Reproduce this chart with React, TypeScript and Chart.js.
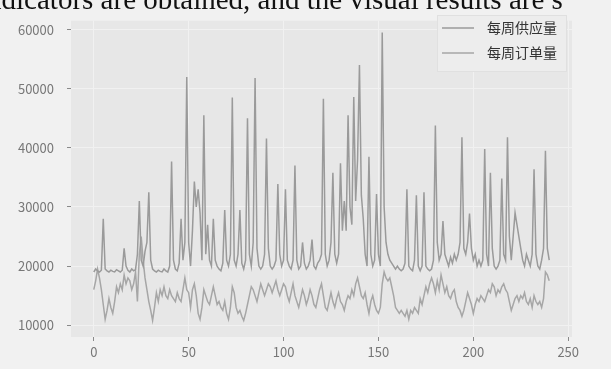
import React, { useEffect, useRef } from 'react';
import { Chart, registerables } from 'chart.js';

Chart.register(...registerables);

const seriesNames = ['每周供应量', '每周订单量'];

const supply = [
  19000, 19500, 19200, 19000, 19300, 28000, 19500, 19200, 19000, 19300,
  19100, 19000, 19400, 19200, 19000, 19300, 23000, 20000, 19300, 19000,
  19500, 19200, 19400, 22000, 31000, 21000, 20000, 22500, 24000, 32500,
  21000, 19500, 19200, 19000, 19300, 19100, 19000, 19500, 19200, 19000,
  20000, 37700, 21000, 19500, 19200, 20500, 28000, 21000, 24000, 52000,
  24000, 20000, 26000, 34300, 30000, 33000, 29000, 21000, 45500, 22000,
  27000, 21000, 20000, 28000, 21000, 20000, 19500, 19200, 20500, 29500,
  21000, 20000, 22000, 48500, 21000, 20000, 22000, 29500, 20500, 19500,
  21000, 45000, 22000, 20000, 24000, 51800, 23000, 20000, 19500, 20000,
  22000, 41600, 23000, 20000, 19500, 20000, 21000, 33900, 22000, 20000,
  21000, 33000, 21000, 20000, 19500, 21000, 37000, 21000, 19500, 20000,
  24000, 20500, 19500, 20000, 21000, 24500, 20000, 19500, 20500, 21000,
  22000, 48300, 22000, 20000, 21000, 24000, 35800, 22000, 20500, 22000,
  37400, 26000, 31000, 26000, 45500, 30000, 27000, 48600, 31000, 38000,
  54000, 32000, 28000, 22000, 20000, 38500, 22000, 20000, 21000, 32200,
  22000, 20000, 59500, 30000, 24000, 22000, 21000, 20500, 20000, 19500,
  20000, 19500, 19200, 19500, 20500, 33000, 20000, 19500, 19200, 21000,
  32000, 20000, 19200, 20000, 32500, 20000, 19500, 19200, 19500, 21000,
  43800, 24000, 21000, 22000, 27600, 22000, 21000, 20000, 21500, 20500,
  22000, 21000, 22000, 24000, 41800, 23000, 22000, 24000, 28900, 23000,
  21000, 22000, 20000, 21000, 20000, 21000, 39800, 22000, 20000, 35800,
  23000, 20000, 19500, 20000, 21000, 34800, 22000, 21000, 41800, 25000,
  21000, 25000, 29000, 27000, 25000, 23000, 21000, 20000, 22000, 21000,
  20000, 22000, 36400, 22000, 20000, 19500, 21000, 23000, 39500, 23000,
  21000,
];

const orders = [
  16000, 17500, 19500, 18000, 16000, 13500, 11000, 12500, 14500, 13000,
  12000, 14000, 16500, 15500, 17000, 16000, 18500, 17000, 18000, 17500,
  16000, 17000, 19000, 14000, 22000, 25000, 21000, 18000, 16000, 14000,
  12500, 10800, 13000, 15500, 14000, 16000, 15000, 16500, 15000, 14500,
  16000, 15000, 14500, 14000, 15500, 14500, 14000, 16000, 18000, 16000,
  15500, 13000, 16000, 17000, 15000, 12000, 11000, 13000, 16000, 15000,
  14000, 13500, 15000, 16500, 15000, 13500, 14000, 13000, 12500, 14000,
  12000, 11000, 13000, 16500, 15500, 13000, 12000, 12500, 11500, 10800,
  12000, 13500, 15000, 16500, 16000, 15000, 14000, 15500, 17000, 16000,
  15000, 16000, 17000, 16500, 15500, 16500, 17500, 16000, 15000, 16000,
  17000, 16500, 15000, 14000, 15500, 17000, 15000, 14000, 13000, 14500,
  16000, 15000, 13500, 14500, 16000, 15000, 13500, 13000, 14500, 16000,
  17000, 15000, 13000, 12500, 14000, 15500, 14000, 13000, 14500, 15500,
  14000, 13500, 12500, 14000, 15000, 14500, 16000, 15000, 17000, 18000,
  16500, 15000, 14500, 15500, 13500, 12000, 14000, 15000, 13500, 12500,
  12000, 13000, 17000, 19000, 18000, 17500, 18000, 16500, 15000, 13000,
  12500, 12000, 12500, 12000, 11500, 12500, 11000, 12500, 12000, 13000,
  12500, 12000, 14500, 13500, 15000, 16500, 15500, 17000, 18000, 17000,
  15500, 17500, 16000, 18500, 17000, 15500, 16500, 15000, 14500, 15500,
  16000, 14000, 13000, 12500, 11500, 12500, 14000, 15500, 14500, 13500,
  12000, 13500, 14500, 14000, 15000, 14500, 14000, 15000, 16000, 15500,
  17000, 16500, 15000, 16000, 15500, 16500, 17000, 16000, 15500, 14000,
  12500, 13500, 14500, 15000, 14000, 15000, 14500, 15500, 14000, 13500,
  14500, 13000, 15000, 14000, 13500, 14000, 13000, 14500, 19000, 18500,
  17500,
];

const xTickValues = [0, 50, 100, 150, 200, 250];
const yTickValues = [10000, 20000, 30000, 40000, 50000, 60000];

const lineColors = ['#9a9a9a', '#a6a6a6'];
const FONT = '"Noto Sans CJK SC", "Noto Sans", sans-serif';

export default function App() {
  const ref = useRef<HTMLCanvasElement | null>(null);

  useEffect(() => {
    if (!ref.current) return;
    const toPoints = (arr: number[]) => arr.map((v, i) => ({ x: i, y: v }));

    const bgPlugin = {
      id: 'plotBg',
      beforeDraw(chart: any) {
        const { ctx, chartArea } = chart;
        ctx.save();
        ctx.fillStyle = '#e7e7e7';
        ctx.fillRect(chartArea.left, chartArea.top, chartArea.right - chartArea.left, chartArea.bottom - chartArea.top);
        ctx.restore();
      },
    };

    const legendPlugin = {
      id: 'boxLegend',
      afterDraw(chart: any) {
        const { ctx } = chart;
        ctx.save();
        ctx.fillStyle = '#ededed';
        ctx.strokeStyle = '#e0e0e0';
        ctx.lineWidth = 1;
        ctx.fillRect(437, 15, 129, 56);
        ctx.strokeRect(437.5, 15.5, 129, 56);
        seriesNames.forEach((name, i) => {
          const y = 28 + i * 25;
          ctx.strokeStyle = lineColors[i];
          ctx.lineWidth = 1.5;
          ctx.beginPath();
          ctx.moveTo(442, y);
          ctx.lineTo(474, y);
          ctx.stroke();
          ctx.fillStyle = '#333333';
          ctx.font = `14px ${FONT}`;
          ctx.textBaseline = 'middle';
          ctx.textAlign = 'left';
          ctx.fillText(name, 487, y);
        });
        ctx.restore();
      },
    };

    const chart = new Chart(ref.current, {
      type: 'line',
      data: {
        datasets: [
          { label: seriesNames[0], data: toPoints(supply), borderColor: lineColors[0], borderWidth: 1.5, pointRadius: 0, tension: 0, fill: false },
          { label: seriesNames[1], data: toPoints(orders), borderColor: lineColors[1], borderWidth: 1.5, pointRadius: 0, tension: 0, fill: false },
        ],
      },
      options: {
        animation: false,
        responsive: false,
        devicePixelRatio: 1,
        layout: { padding: { left: 0, right: 39, top: 9, bottom: 0 } },
        plugins: { legend: { display: false }, tooltip: { enabled: false } },
        scales: {
          x: {
            type: 'linear',
            min: -12,
            max: 252,
            afterBuildTicks: (s: any) => { s.ticks = xTickValues.map((v) => ({ value: v })); },
            afterFit: (s: any) => { s.height = 32; },
            grid: { color: '#f1f1f1', lineWidth: 1, tickColor: '#8a8a8a', tickLength: 4 },
            border: { display: false },
            ticks: { color: '#777777', font: { family: FONT, size: 13 }, padding: 3, maxRotation: 0, autoSkip: false, callback: (v: any) => String(v) },
          },
          y: {
            type: 'linear',
            min: 8000,
            max: 61500,
            afterBuildTicks: (s: any) => { s.ticks = yTickValues.map((v) => ({ value: v })); },
            afterFit: (s: any) => { s.width = 71; },
            grid: { color: '#f1f1f1', lineWidth: 1, tickColor: '#8a8a8a', tickLength: 4 },
            border: { display: false },
            ticks: { color: '#777777', font: { family: FONT, size: 13 }, padding: 13, autoSkip: false, callback: (v: any) => String(v) },
          },
        },
      },
      plugins: [bgPlugin, legendPlugin],
    });
    return () => chart.destroy();
  }, []);

  return (
    <div style={{ position: 'fixed', left: 0, top: 0, width: 611, height: 369, background: '#f1f1f1', overflow: 'hidden' }}>
      <canvas ref={ref} width={611} height={369} style={{ position: 'absolute', left: 0, top: 0, width: 611, height: 369 }} />
      <div style={{ position: 'absolute', left: -21, top: -15, fontFamily: '"Liberation Serif", "Times New Roman", serif', fontSize: 29, lineHeight: '29px', whiteSpace: 'nowrap', color: '#111' }}>
        indicators are obtained, and the visual results are s
      </div>
    </div>
  );
}
